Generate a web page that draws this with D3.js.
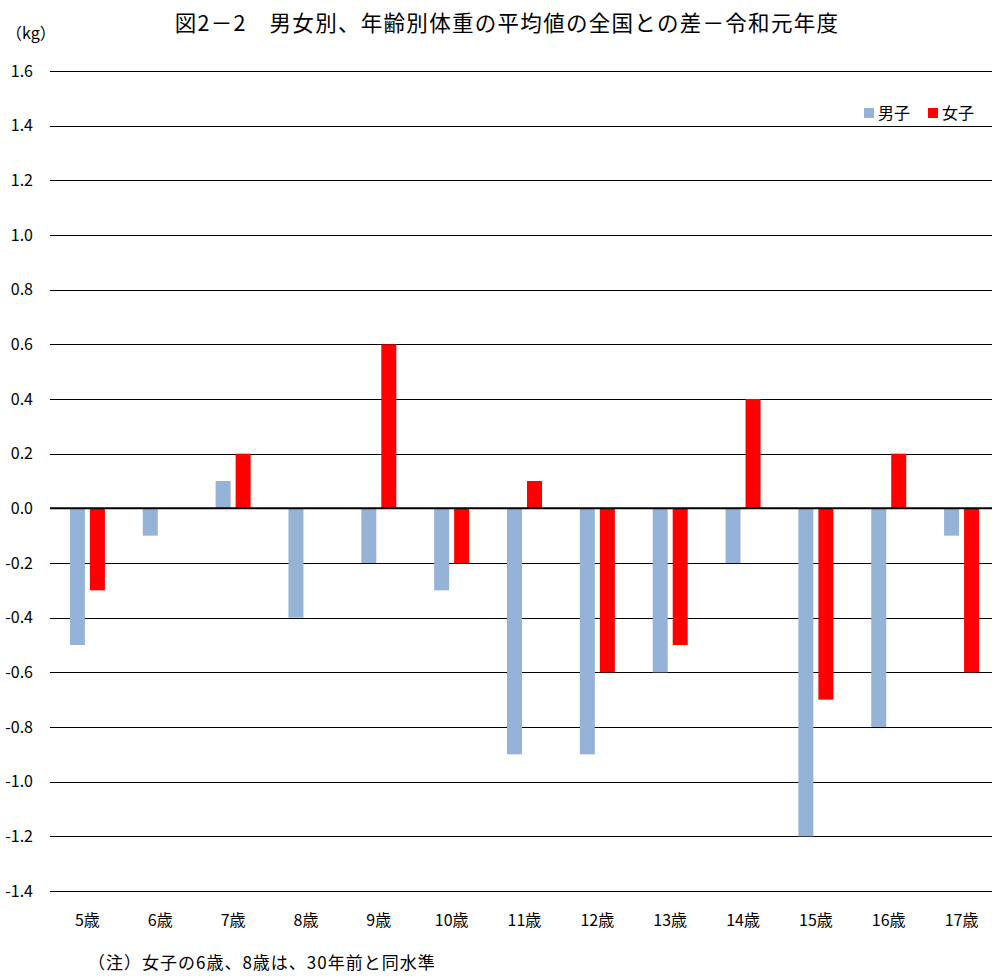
<!DOCTYPE html>
<html><head><meta charset="utf-8">
<script src="https://cdn.jsdelivr.net/npm/d3@7"></script>
<style>body{margin:0;background:#fff;} text{font-family:"Noto Sans CJK JP","Noto Sans",sans-serif;}</style>
</head><body>
<svg id="c" width="992" height="980"></svg>
<script>
const categories = ["5歳","6歳","7歳","8歳","9歳","10歳","11歳","12歳","13歳","14歳","15歳","16歳","17歳"];
const boys = [-0.5,-0.1,0.1,-0.4,-0.2,-0.3,-0.9,-0.9,-0.6,-0.2,-1.2,-0.8,-0.1];
const girls = [-0.3,0,0.2,0,0.6,-0.2,0.1,-0.6,-0.5,0.4,-0.7,0.2,-0.6];
const yTicks = [1.6,1.4,1.2,1.0,0.8,0.6,0.4,0.2,0.0,-0.2,-0.4,-0.6,-0.8,-1.0,-1.2,-1.4];
const seriesNames = ["男子","女子"];
const colors = ["#95B3D7","#FF0000"];

const svg = d3.select("#c");
const x = d3.scaleBand().domain(categories).range([51, 998]);
const y = d3.scaleLinear().domain([-1.4, 1.6]).range([891, 71]);
const bw = 15, gap = 5;

svg.append("text").attr("x", 507).attr("y", 31).attr("text-anchor","middle")
  .attr("font-size", 21.5).attr("font-weight", 400).attr("letter-spacing", 1.3).attr("fill","#000")
  .text("図2－2　男女別、年齢別体重の平均値の全国との差－令和元年度");
svg.append("text").attr("x", 6).attr("y", 39).attr("font-size", 16).attr("fill","#000").text("（kg）");

// gridlines
svg.append("g").selectAll("line").data(yTicks).join("line")
  .attr("x1", 50).attr("x2", 992)
  .attr("y1", d => Math.round(y(d)) + 0.5).attr("y2", d => Math.round(y(d)) + 0.5)
  .attr("stroke", "#000").attr("stroke-width", 1);

svg.append("g").selectAll("text").data(yTicks).join("text")
  .attr("x", 33).attr("y", d => y(d) + 5.5).attr("text-anchor","end")
  .attr("font-size", 16).attr("fill","#000").text(d => d.toFixed(1));

const data = categories.map((c,i) => ({c, b: boys[i], g: girls[i]}));
svg.append("g").selectAll("rect.b").data(data).join("rect")
  .attr("x", d => x(d.c) + x.bandwidth()/2 - gap/2 - bw)
  .attr("width", bw)
  .attr("y", d => y(Math.max(0, d.b))).attr("height", d => Math.abs(y(d.b) - y(0)))
  .attr("fill", colors[0]);
svg.append("g").selectAll("rect.g").data(data.filter(d => d.g !== 0)).join("rect")
  .attr("x", d => x(d.c) + x.bandwidth()/2 + gap/2)
  .attr("width", bw)
  .attr("y", d => y(Math.max(0, d.g))).attr("height", d => Math.abs(y(d.g) - y(0)))
  .attr("fill", colors[1]);

// zero line
svg.append("line").attr("x1",50).attr("x2",992).attr("y1", y(0)).attr("y2", y(0))
  .attr("stroke","#000").attr("stroke-width",2);

svg.append("g").selectAll("text").data(categories).join("text")
  .attr("x", d => x(d) + x.bandwidth()/2).attr("y", 926).attr("text-anchor","middle")
  .attr("font-size", 16).attr("fill","#000").text(d => d);

// legend
const lg = svg.append("g");
const lx = [864, 928];
seriesNames.forEach((n,i) => {
  lg.append("rect").attr("x", lx[i]).attr("y", 108).attr("width", 10).attr("height", 10).attr("fill", colors[i]);
  lg.append("text").attr("x", lx[i] + 14).attr("y", 119).attr("font-size", 16).attr("fill","#000").text(n);
});

svg.append("text").attr("x", 88).attr("y", 969).attr("font-size", 17).attr("letter-spacing", 1).attr("fill","#000")
  .text("（注）女子の6歳、8歳は、30年前と同水準");
</script>
</body></html>
